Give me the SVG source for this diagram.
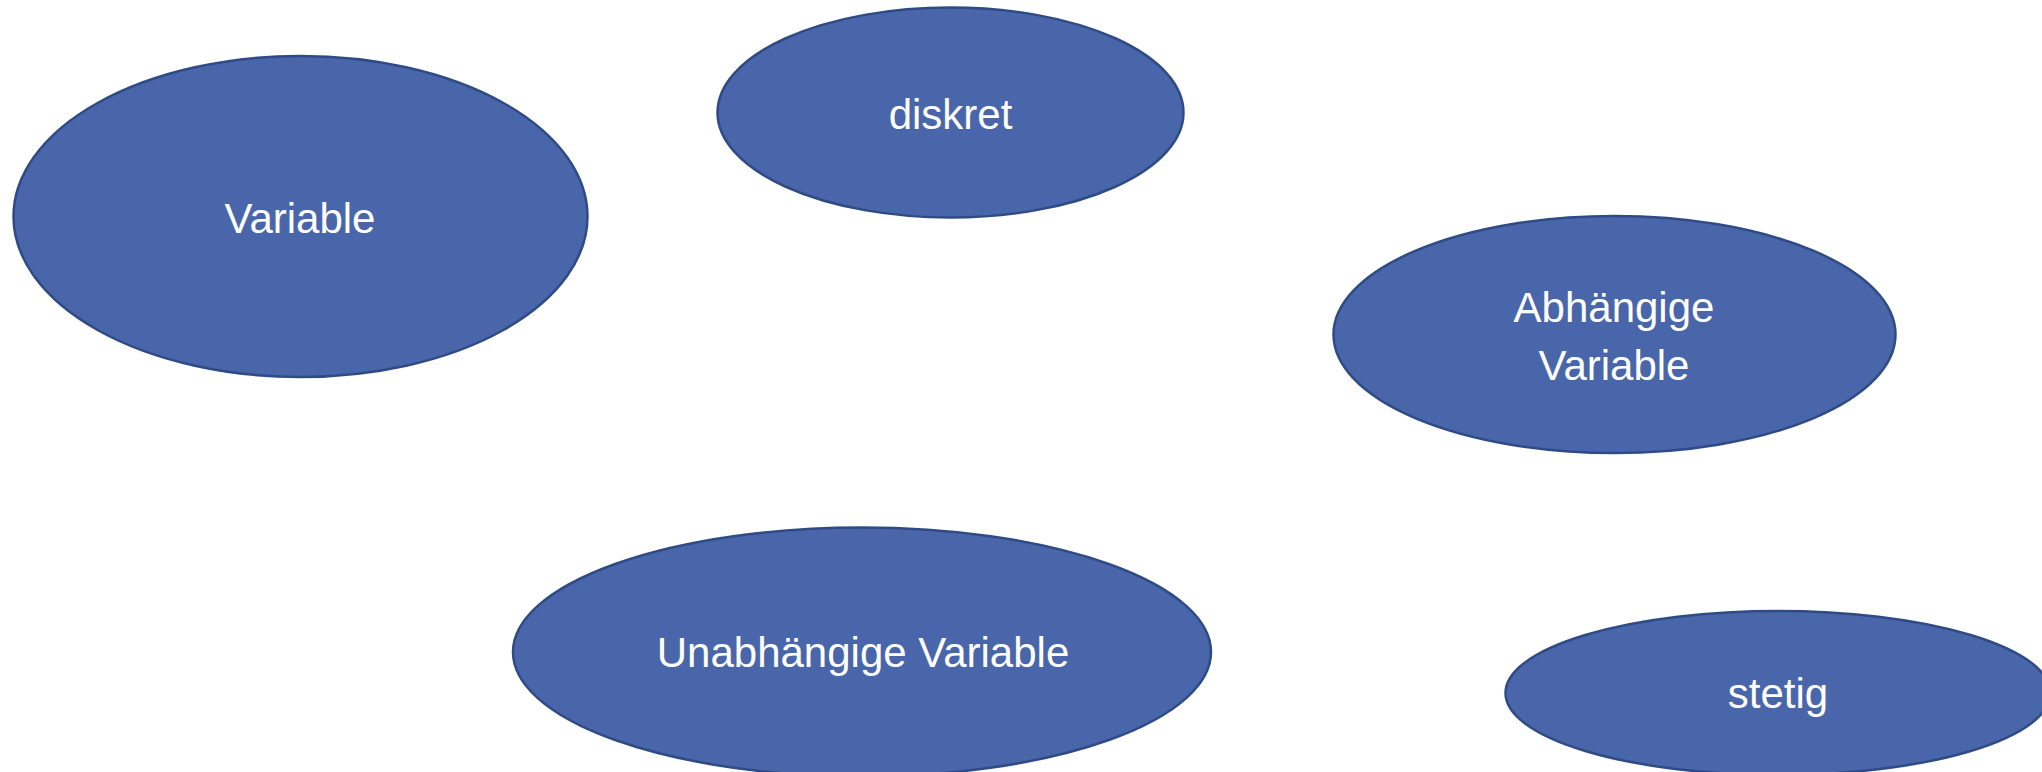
<svg xmlns="http://www.w3.org/2000/svg" width="2042" height="772" viewBox="0 0 2042 772">
  <style>
    .node ellipse { fill: #4966AB; stroke: #2F4B86; stroke-width: 2.5; }
    .node text { fill: #FFFFFF; font-family: "Liberation Sans", Arial, sans-serif; font-size: 42px; text-anchor: middle; }
  </style>
  <rect width="2042" height="772" fill="#FFFFFF"/>
  <g id="connectors"></g>
  <g id="node-variable" class="node">
    <ellipse cx="300.5" cy="216.5" rx="287" ry="160.5"/>
    <text x="300" y="233">Variable</text>
  </g>
  <g id="node-diskret" class="node">
    <ellipse cx="950.5" cy="112.5" rx="233" ry="105"/>
    <text x="950.5" y="129">diskret</text>
  </g>
  <g id="node-abhaengige" class="node">
    <ellipse cx="1614.5" cy="334.5" rx="281" ry="118.5"/>
    <text x="1614" y="321.5">Abhängige</text>
    <text x="1614" y="380">Variable</text>
  </g>
  <g id="node-unabhaengige" class="node">
    <ellipse cx="862" cy="652" rx="349" ry="124.5"/>
    <text x="863" y="667">Unabhängige Variable</text>
  </g>
  <g id="node-stetig" class="node">
    <ellipse cx="1778" cy="693" rx="272.5" ry="82"/>
    <text x="1778" y="708">stetig</text>
  </g>
</svg>
